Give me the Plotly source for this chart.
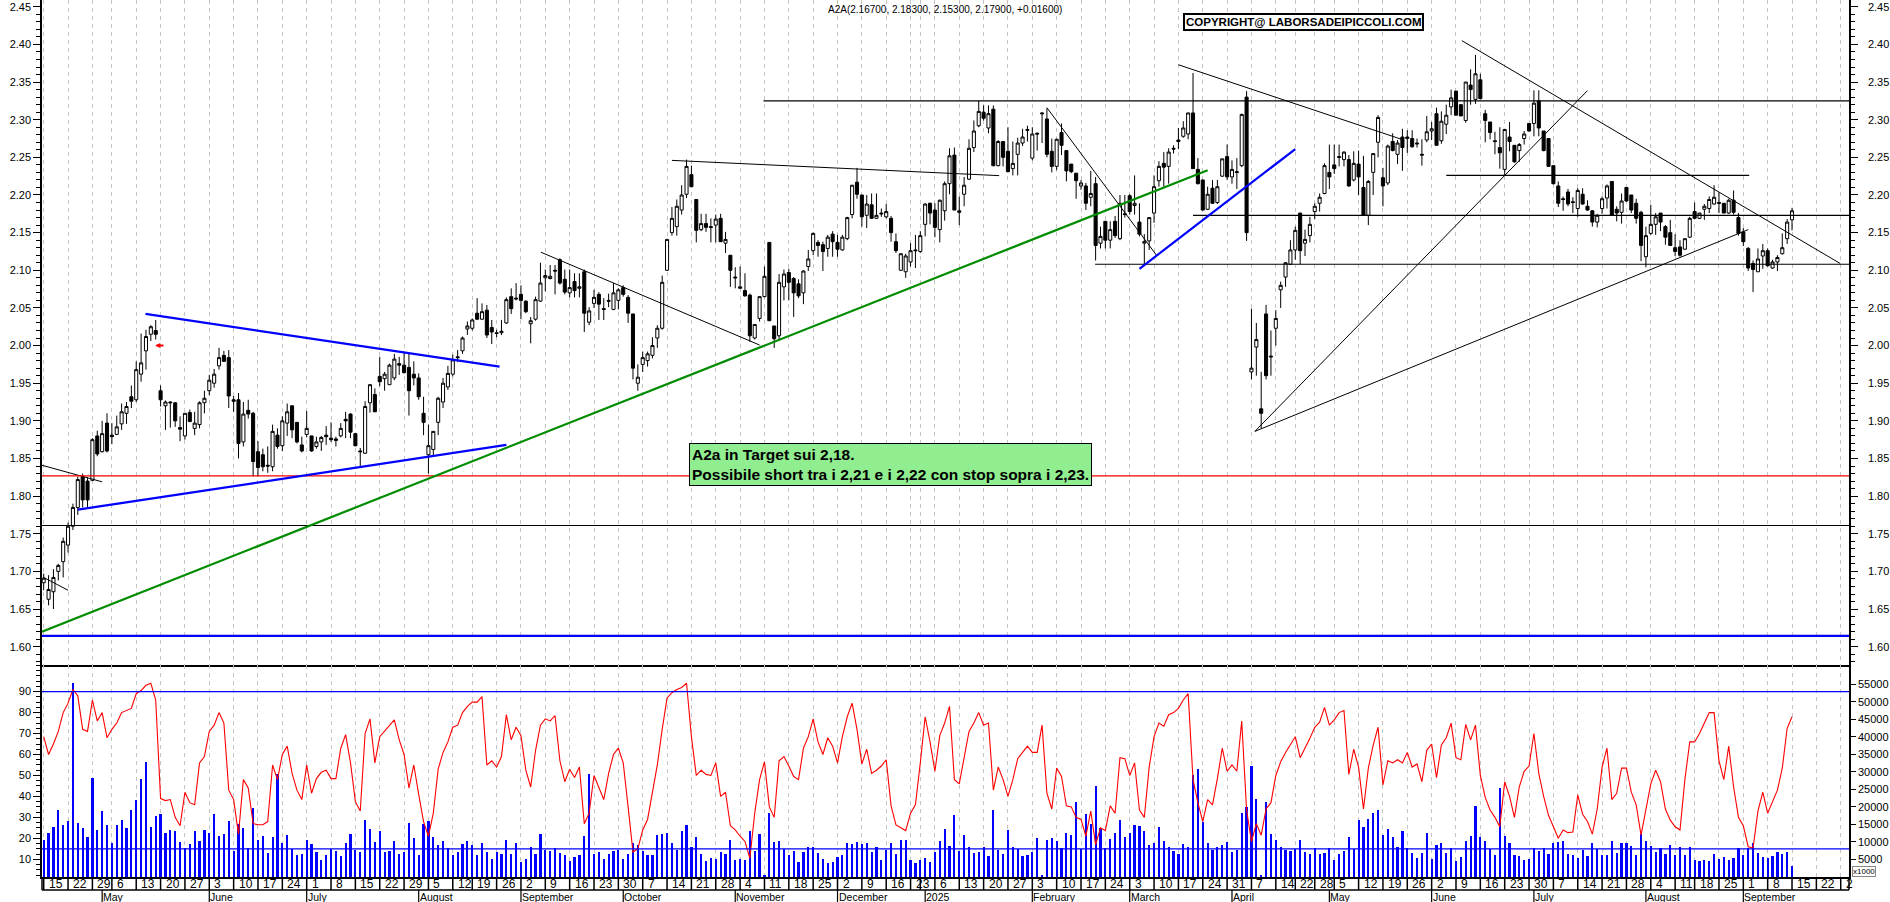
import plotly.graph_objects as go

W = 1890
H = 902

opens = [
    1.685,1.663,1.673,1.70,1.713,1.735,1.76,1.785,1.826,1.82,
    1.821,1.88,1.859,1.897,1.881,1.882,1.896,1.91,1.932,1.928,
    1.962,1.993,2.015,2.02,1.94,1.92,1.925,1.924,1.891,1.88,
    1.911,1.89,1.895,1.924,1.94,1.95,1.973,1.987,1.984,1.928,
    1.928,1.872,1.914,1.91,1.859,1.855,1.841,1.839,1.881,1.867,
    1.897,1.92,1.898,1.868,1.882,1.88,1.866,1.872,1.881,1.877,
    1.876,1.88,1.902,1.909,1.883,1.86,1.857,1.924,1.935,1.959,
    1.956,1.948,1.957,1.976,1.974,1.971,1.962,1.957,1.91,1.855,
    1.862,1.898,1.925,1.945,1.962,1.985,1.993,2.022,2.023,2.043,
    2.035,2.047,2.024,2.017,2.017,2.03,2.065,2.063,2.068,2.059,
    2.029,2.035,2.059,2.09,2.089,2.10,2.114,2.088,2.07,2.085,
    2.076,2.098,2.031,2.056,2.068,2.049,2.06,2.048,2.06,2.077,
    2.064,2.042,1.95,1.975,1.98,1.987,2.01,2.023,2.10,2.15,
    2.158,2.18,2.201,2.227,2.194,2.154,2.162,2.158,2.16,2.169,
    2.136,2.12,2.091,2.076,2.073,2.067,2.01,2.036,2.065,2.137,
    2.026,2.013,2.078,2.097,2.089,2.082,2.07,2.105,2.126,2.137,
    2.134,2.129,2.148,2.137,2.127,2.142,2.174,2.217,2.20,2.173,
    2.187,2.169,2.176,2.171,2.169,2.138,2.10,2.098,2.111,2.127,
    2.125,2.161,2.189,2.18,2.154,2.179,2.215,2.253,2.179,2.201,
    2.221,2.263,2.292,2.31,2.289,2.314,2.239,2.271,2.258,2.235,
    2.254,2.269,2.287,2.249,2.282,2.309,2.301,2.258,2.238,2.283,
    2.259,2.241,2.229,2.212,2.212,2.197,2.215,2.136,2.165,2.14,
    2.165,2.142,2.175,2.199,2.186,2.164,2.136,2.139,2.176,2.219,
    2.242,2.238,2.262,2.273,2.278,2.281,2.309,2.234,2.22,2.181,
    2.209,2.19,2.225,2.251,2.224,2.231,2.239,2.33,1.965,1.998,
    1.916,2.042,1.986,2.023,2.074,2.091,2.108,2.127,2.176,2.136,
    2.146,2.178,2.189,2.202,2.23,2.24,2.251,2.247,2.247,2.22,
    2.241,2.21,2.173,2.23,2.27,2.223,2.216,2.271,2.254,2.277,
    2.275,2.275,2.269,2.254,2.273,2.285,2.308,2.272,2.294,2.317,
    2.338,2.32,2.299,2.346,2.327,2.353,2.308,2.297,2.272,2.263,
    2.234,2.277,2.266,2.259,2.275,2.295,2.295,2.325,2.285,2.275,
    2.239,2.212,2.195,2.204,2.191,2.182,2.201,2.185,2.179,2.164,
    2.182,2.196,2.218,2.181,2.177,2.21,2.2,2.189,2.177,2.118,
    2.149,2.161,2.176,2.158,2.15,2.13,2.131,2.128,2.144,2.178,
    2.169,2.181,2.182,2.188,2.19,2.189,2.176,2.193,2.17,2.151,
    2.129,2.109,2.098,2.119,2.126,2.103,2.111,2.122,2.142,2.167,
]
highs = [
    1.697,1.695,1.703,1.71,1.745,1.765,1.79,1.826,1.83,1.825,
    1.877,1.887,1.90,1.91,1.897,1.907,1.923,1.925,1.947,1.979,
    2.016,2.021,2.027,2.034,1.947,1.927,1.926,1.925,1.906,1.91,
    1.915,1.912,1.926,1.94,1.961,1.969,1.997,1.993,1.994,1.933,
    1.937,1.925,1.928,1.912,1.873,1.863,1.866,1.895,1.89,1.906,
    1.923,1.92,1.898,1.879,1.913,1.88,1.879,1.88,1.893,1.898,
    1.879,1.897,1.912,1.91,1.883,1.864,1.926,1.949,1.943,1.985,
    1.965,1.976,1.989,1.985,1.992,1.99,1.979,1.963,1.932,1.895,
    1.886,1.932,1.957,1.973,1.988,1.994,2.012,2.032,2.036,2.063,
    2.056,2.054,2.034,2.021,2.034,2.064,2.076,2.083,2.08,2.06,
    2.038,2.065,2.11,2.101,2.107,2.107,2.116,2.101,2.101,2.096,
    2.096,2.101,2.051,2.074,2.071,2.063,2.069,2.083,2.076,2.08,
    2.067,2.042,1.975,1.992,1.992,2.011,2.027,2.093,2.141,2.184,
    2.194,2.213,2.247,2.239,2.194,2.175,2.175,2.169,2.174,2.175,
    2.151,2.12,2.104,2.105,2.096,2.069,2.028,2.065,2.105,2.137,
    2.026,2.095,2.101,2.102,2.091,2.088,2.1,2.127,2.15,2.14,
    2.138,2.147,2.152,2.147,2.147,2.171,2.213,2.236,2.20,2.2,
    2.202,2.202,2.182,2.188,2.172,2.149,2.122,2.122,2.136,2.147,
    2.152,2.189,2.19,2.189,2.194,2.218,2.262,2.263,2.198,2.224,
    2.274,2.299,2.325,2.319,2.319,2.319,2.273,2.271,2.29,2.271,
    2.276,2.288,2.292,2.29,2.283,2.31,2.315,2.275,2.275,2.295,
    2.259,2.241,2.229,2.22,2.216,2.232,2.224,2.158,2.165,2.165,
    2.172,2.2,2.2,2.201,2.226,2.189,2.148,2.17,2.226,2.245,
    2.257,2.262,2.266,2.289,2.298,2.309,2.362,2.249,2.22,2.211,
    2.22,2.22,2.248,2.267,2.246,2.249,2.308,2.338,2.049,2.03,
    1.965,2.054,2.02,2.047,2.085,2.111,2.14,2.158,2.176,2.154,
    2.171,2.189,2.202,2.242,2.267,2.267,2.267,2.258,2.253,2.258,
    2.259,2.252,2.22,2.255,2.306,2.236,2.267,2.282,2.273,2.288,
    2.286,2.286,2.275,2.274,2.305,2.297,2.316,2.311,2.32,2.34,
    2.338,2.32,2.35,2.367,2.386,2.361,2.313,2.297,2.284,2.29,
    2.287,2.297,2.266,2.269,2.285,2.295,2.339,2.339,2.285,2.275,
    2.239,2.218,2.198,2.208,2.197,2.209,2.209,2.193,2.18,2.175,
    2.198,2.214,2.218,2.185,2.202,2.21,2.2,2.195,2.179,2.158,
    2.187,2.176,2.176,2.16,2.167,2.148,2.14,2.142,2.171,2.19,
    2.176,2.188,2.198,2.213,2.203,2.189,2.195,2.206,2.176,2.156,
    2.131,2.113,2.129,2.135,2.129,2.114,2.12,2.149,2.168,2.183,
]
lows = [
    1.675,1.655,1.65,1.688,1.692,1.725,1.755,1.775,1.785,1.785,
    1.82,1.853,1.858,1.858,1.869,1.881,1.888,1.896,1.917,1.925,
    1.952,1.968,2.006,2.008,1.919,1.888,1.891,1.892,1.873,1.875,
    1.899,1.881,1.89,1.91,1.934,1.944,1.968,1.979,1.917,1.912,
    1.85,1.866,1.903,1.826,1.826,1.833,1.831,1.833,1.863,1.86,
    1.88,1.877,1.87,1.858,1.878,1.859,1.863,1.86,1.868,1.872,
    1.866,1.878,1.877,1.877,1.866,1.84,1.856,1.911,1.912,1.946,
    1.94,1.948,1.954,1.961,1.963,1.907,1.947,1.928,1.881,1.83,
    1.852,1.881,1.917,1.941,1.959,1.978,1.989,2.014,2.02,2.034,
    2.034,2.01,2.002,2.011,2.014,2.029,2.042,2.06,2.035,2.043,
    2.003,2.033,2.058,2.072,2.088,2.068,2.081,2.068,2.064,2.064,
    2.064,2.018,2.027,2.05,2.034,2.034,2.051,2.047,2.048,2.065,
    2.03,1.955,1.94,1.965,1.972,1.983,1.997,2.021,2.099,2.146,
    2.146,2.174,2.196,2.211,2.137,2.152,2.151,2.137,2.137,2.138,
    2.123,2.078,2.076,2.076,2.065,2.005,2.008,2.032,2.064,2.033,
    1.997,2.008,2.06,2.06,2.038,2.063,2.055,2.099,2.12,2.118,
    2.099,2.118,2.118,2.118,2.126,2.14,2.169,2.195,2.158,2.156,
    2.169,2.169,2.171,2.169,2.138,2.123,2.099,2.09,2.105,2.103,
    2.123,2.145,2.161,2.144,2.137,2.166,2.201,2.18,2.16,2.185,
    2.22,2.257,2.29,2.299,2.282,2.238,2.238,2.238,2.23,2.226,
    2.226,2.265,2.271,2.246,2.259,2.269,2.25,2.23,2.233,2.253,
    2.218,2.229,2.195,2.207,2.18,2.185,2.113,2.129,2.129,2.129,
    2.143,2.14,2.17,2.174,2.174,2.145,2.108,2.127,2.163,2.211,
    2.211,2.215,2.255,2.261,2.276,2.274,2.235,2.214,2.18,2.18,
    2.188,2.188,2.224,2.22,2.215,2.208,2.237,2.139,1.955,1.96,
    1.89,1.955,1.96,2.0,2.05,2.078,2.107,2.114,2.108,2.119,
    2.137,2.168,2.178,2.201,2.208,2.228,2.238,2.238,2.211,2.218,
    2.2,2.173,2.16,2.2,2.25,2.185,2.213,2.258,2.241,2.232,
    2.256,2.263,2.263,2.239,2.27,2.273,2.266,2.268,2.281,2.306,
    2.306,2.305,2.296,2.32,2.321,2.327,2.27,2.274,2.254,2.235,
    2.226,2.258,2.243,2.244,2.267,2.284,2.278,2.278,2.258,2.238,
    2.214,2.184,2.179,2.185,2.176,2.171,2.187,2.179,2.158,2.157,
    2.175,2.182,2.173,2.165,2.162,2.191,2.176,2.162,2.112,2.104,
    2.147,2.147,2.152,2.134,2.133,2.119,2.118,2.127,2.143,2.168,
    2.168,2.167,2.176,2.187,2.176,2.176,2.175,2.174,2.146,2.132,
    2.099,2.071,2.098,2.102,2.105,2.102,2.099,2.121,2.135,2.153,
]
closes = [
    1.691,1.676,1.692,1.708,1.74,1.76,1.785,1.822,1.795,1.795,
    1.875,1.856,1.883,1.86,1.879,1.892,1.912,1.919,1.926,1.968,
    1.977,2.012,2.025,2.015,1.928,1.925,1.924,1.90,1.889,1.91,
    1.899,1.897,1.924,1.93,1.954,1.962,1.984,1.979,1.933,1.926,
    1.87,1.909,1.909,1.846,1.838,1.839,1.84,1.886,1.866,1.90,
    1.912,1.888,1.872,1.86,1.89,1.86,1.872,1.878,1.879,1.875,
    1.874,1.89,1.90,1.885,1.867,1.859,1.919,1.948,1.912,1.952,
    1.962,1.974,1.982,1.974,1.964,1.94,1.957,1.932,1.898,1.867,
    1.886,1.93,1.95,1.963,1.981,1.984,2.01,2.026,2.034,2.035,
    2.045,2.014,2.018,2.016,2.019,2.061,2.049,2.062,2.06,2.045,
    2.033,2.061,2.083,2.093,2.092,2.099,2.083,2.071,2.077,2.073,
    2.078,2.043,2.046,2.064,2.055,2.048,2.059,2.07,2.074,2.068,
    2.043,1.97,1.958,1.984,1.989,2.0,2.023,2.084,2.141,2.169,
    2.185,2.2,2.238,2.211,2.153,2.162,2.157,2.157,2.168,2.138,
    2.141,2.10,2.09,2.078,2.066,2.013,2.028,2.065,2.092,2.033,
    2.009,2.084,2.095,2.084,2.07,2.066,2.099,2.115,2.149,2.133,
    2.125,2.144,2.138,2.128,2.144,2.17,2.213,2.201,2.171,2.188,
    2.169,2.173,2.175,2.178,2.15,2.126,2.122,2.119,2.126,2.126,
    2.146,2.188,2.176,2.157,2.193,2.215,2.252,2.18,2.177,2.213,
    2.262,2.285,2.311,2.302,2.308,2.239,2.271,2.25,2.231,2.242,
    2.269,2.277,2.286,2.281,2.281,2.308,2.254,2.238,2.274,2.266,
    2.232,2.231,2.219,2.216,2.189,2.202,2.133,2.145,2.14,2.154,
    2.146,2.189,2.174,2.178,2.189,2.148,2.138,2.17,2.211,2.238,
    2.237,2.257,2.261,2.271,2.289,2.309,2.235,2.215,2.18,2.201,
    2.189,2.211,2.248,2.224,2.234,2.23,2.307,2.15,1.97,2.008,
    1.91,1.96,1.985,2.036,2.08,2.11,2.127,2.153,2.126,2.141,
    2.161,2.185,2.197,2.239,2.224,2.235,2.25,2.257,2.212,2.242,
    2.224,2.173,2.218,2.255,2.303,2.212,2.265,2.259,2.269,2.263,
    2.277,2.264,2.268,2.253,2.284,2.288,2.266,2.298,2.306,2.329,
    2.306,2.305,2.35,2.34,2.361,2.328,2.299,2.283,2.271,2.256,
    2.287,2.271,2.244,2.267,2.281,2.285,2.322,2.289,2.259,2.238,
    2.215,2.189,2.194,2.188,2.19,2.206,2.188,2.18,2.164,2.173,
    2.195,2.212,2.173,2.176,2.192,2.192,2.18,2.169,2.133,2.146,
    2.161,2.171,2.164,2.144,2.133,2.125,2.12,2.142,2.169,2.169,
    2.176,2.185,2.194,2.197,2.189,2.176,2.193,2.177,2.149,2.138,
    2.103,2.101,2.115,2.126,2.106,2.111,2.117,2.13,2.164,2.179,
]

# volume, thousands
volume = [
    10.7,12.6,14.4,19.0,14.9,16.1,55.4,15.5,13.9,11.5,28.3,13.4,18.7,14.7,9.8,14.7,16.3,14.1,19.0,22.1,
    28.1,32.9,14.3,17.4,17.9,12.6,13.3,13.0,9.9,8.4,9.3,13.2,10.2,13.5,12.5,18.1,11.6,12.4,15.9,7.3,
    15.2,13.9,8.4,19.8,10.7,11.6,6.9,11.5,29.3,9.7,11.9,8.1,6.2,6.7,10.7,9.3,7.0,4.8,6.2,7.9,
    7.3,6.0,9.8,12.4,7.8,7.2,16.4,13.6,9.9,13.0,7.2,7.4,10.2,6.5,7.2,15.5,11.1,6.2,15.2,16.0,
    11.4,9.0,10.2,8.4,6.3,7.1,9.5,10.2,9.0,6.4,9.7,7.2,5.0,7.2,6.7,10.5,6.7,9.7,4.2,5.0,
    8.6,6.7,12.4,7.6,7.3,8.4,6.9,6.3,4.6,5.6,6.4,11.6,29.5,6.5,7.2,5.0,6.7,7.4,7.8,5.2,6.5,
    9.6,9.1,7.3,6.2,6.2,11.9,12.4,12.6,9.6,7.6,13.2,14.7,8.6,11.5,6.5,4.7,5.3,5.0,7.2,6.7,
    10.5,4.8,5.0,4.9,13.1,7.3,12.4,0.3,18.2,10.1,10.2,7.9,6.2,7.3,4.3,7.2,8.6,8.6,6.9,5.0,
    4.1,4.3,5.8,6.2,9.6,9.3,9.9,9.3,9.6,7.2,8.6,4.9,7.8,9.6,6.5,10.6,10.5,4.8,3.9,4.8,
    5.4,4.4,7.0,10.2,13.6,8.9,17.6,7.3,12.1,8.6,6.9,7.2,8.6,6.0,19.0,7.6,6.6,13.5,8.7,7.9,
    5.9,6.2,7.2,11.2,0.5,10.5,11.0,10.2,8.4,12.6,11.9,21.5,7.9,17.9,15.2,26.1,14.1,8.4,10.9,12.6,
    16.4,11.3,12.6,14.7,14.6,13.2,9.0,9.8,14.2,10.2,8.6,7.3,6.5,9.5,8.6,29.0,30.7,15.7,9.6,7.6,
    8.6,9.0,10.1,7.2,7.6,18.4,20.0,
    31.8,22.4,0.5,21.5,12.4,10.5,8.6,7.6,7.3,7.9,10.6,7.1,6.5,8.4,6.7,6.9,8.4,4.8,6.7,7.3,
    11.5,7.9,16.4,14.3,16.6,18.3,19.0,12.0,13.6,11.3,8.6,13.0,8.4,6.9,5.5,6.9,12.6,5.0,9.0,9.6,
    6.9,8.4,4.6,5.6,10.2,11.7,20.2,11.3,10.2,7.9,6.4,25.5,11.7,9.8,6.2,5.9,4.8,5.0,8.4,7.3,
    8.4,6.7,9.8,10.0,10.2,6.5,6.4,5.4,7.6,5.9,9.6,7.9,6.3,6.2,10.2,6.9,9.8,9.6,8.8,6.3,
    12.4,10.2,8.8,7.2,8.4,6.5,9.0,6.2,8.6,6.4,8.6,4.9,4.7,4.9,4.7,6.5,5.0,5.8,4.8,5.3,
    8.4,6.3,8.4,9.8,6.9,5.8,5.4,6.0,7.1,6.7,7.1,3.1,
]

# red oscillator
oscillator = [
    68.5,60,65,71,80,84.5,91,88,72,71,86,76,80,68,72,75,80,81,82,89,
    90.5,93,94,86,39,38,38.5,30,26,42,37,36,56,59,71,74,80,75,43,38.5,
    22,48,44,27,26.5,26.5,28,55,48,60,64,51,43,38.5,55,41.5,48.5,51.5,52.5,48.5,
    48.5,63,69.5,56,37.5,33,70,77,56,68.5,71,74,76.5,67,60,44,55,41,28,21,
    32,53,61,66,73,74,80,83,85,85,87.6,55,57,54,59,79,67,73,69,52.5,
    44.5,62,74,77,76,78.5,57,47,53,49,54,27,32,50,44,38.5,51,60,63,56,
    35,13.5,15,24,29,42,55,72,87,89.5,91,92,94,68.5,50,52.5,50.5,50,56,40,
    42,26,24,21,18.5,10.5,32,48,56.5,35,30,57,59,54.5,49.5,48,63,68.5,77,66,
    60,68,64,56,68.5,78,84.5,72,55.5,62.5,51,52.5,54.5,57.5,35.5,26.4,25,23.7,32,36,
    56,78,66,52,69,75,83,48,46,59,71,75,80,74,75,43,54,48,40,48,
    58,61,64,61,61,74,41.5,34,53.5,49.5,35.5,35,30,29,21,33,17,25,23.7,35.5,
    32,58.5,58,50,56,33.5,30,54,68.5,75,73.5,79,80,82,86,89,48,37,28,38.5,
    36,48.5,63,52,55,52,76,33.5,
    18.4,27,21.5,34,37,50,56.5,61,65,68.5,58.5,63,67.7,73,75.4,82.5,74,76.5,80,81,
    50.5,62.5,54,34,53.5,64.5,73,45.5,57,56,57.5,56,61,54,55.5,47,62,65,49,64.5,
    68,75,58.5,57.5,74.4,67,74,50,39.5,33.5,30,25.5,47,40,30,44.6,52,54.5,70,51,
    40,31,25.5,20,24,22.7,23,40.7,31.5,28,22,34,54,63,38.5,41.5,53.5,53.5,42,36,
    21.5,33.5,46,52.5,47,34,28.7,25.5,24,48,66,66,70,75,80,80,57,48,64,44.6,
    30,26,16,15.4,33,42,32,37.5,43,53.5,72.5,78,
]

week_ticks = [
    0,5,10,14,19,24,29,34,39,44,49,54,59,64,69,74,79,84,88,93,98,103,108,113,118,
    123,128,133,138,143,148,153,158,163,168,173,178,180,183,188,193,198,203,208,213,218,
    223,228,233,238,243,248,253,257,261,265,270,275,280,285,290,295,300,305,310,315,320,325,
    330,335,339,344,349,354,359,364,369,
]
week_labels = [
    "15","22","29","6","13","20","27","3","10","17","24","1","8","15","22","29","5","12","19","26",
    "2","9","16","23","30","7","14","21","28","4","11","18","25","2","9","16","23","","6","13","20","27",
    "3","10","17","24","3","10","17","24","31","7","14","22","28","5","12","19","26","2","9","16","23","30",
    "7","14","21","28","4","11","18","25","1","8","15","22","2",
]
month_ticks = [12,34,54,77,98,119,142,163,181,203,223,244,264,285,306,329,349]
month_labels = [
    "May","June","July","August","September","October","November","December","2025",
    "February","March","April","May","June","July","August","September",
]

# hand drawn lines on the price pane, (bar, price) pairs
trend_segments = [
    ((-0.35,1.841),(12,1.819)),
    ((0,1.692),(5,1.675)),
    ((102.1,2.124),(147,2.0007)),
    ((129,2.246),(196.2,2.2257)),
    ((206,2.316),(228.5,2.12)),
    ((233,2.373),(278.8,2.274)),
    ((248.7,1.886),(317,2.3386)),
    ((248.7,1.886),(350,2.154)),
    ((291.2,2.405),(368.9,2.109)),
]
level_segments = [
    ((147.8,2.325),(370.7,2.325)),
    ((236,2.173),(370.7,2.173)),
    ((215.9,2.108),(370.7,2.108)),
    ((288,2.226),(350.2,2.226)),
    ((-0.35,1.761),(370.7,1.761)),
]
blue_segments = [
    ((20.9,2.042),(93.6,1.972)),
    ((7,1.782),(95,1.868)),
    ((225,2.102),(257,2.261)),
    ((-0.35,1.6145),(370.7,1.6145)),
]
green_segment = [(-0.35,1.62),(239,2.233)]
red_level = 1.827
osc_levels = [90, 15]

for name, arr in [("opens",opens),("highs",highs),("lows",lows),("closes",closes),("volume",volume),("oscillator",oscillator)]:
    if len(arr) != 360:
        raise ValueError(name + " has " + str(len(arr)))

bars = list(range(360))


def py(px):
    return 1 - px / H


def seg_xy(segments):
    xs, ys = [], []
    for a, b in segments:
        xs += [a[0], b[0], None]
        ys += [a[1], b[1], None]
    return xs, ys


fig = go.Figure()

fig.add_trace(go.Candlestick(
    x=bars, open=opens, high=highs, low=lows, close=closes,
    increasing=dict(line=dict(color="black", width=1), fillcolor="white"),
    decreasing=dict(line=dict(color="black", width=1), fillcolor="black"),
    whiskerwidth=0, xaxis="x", yaxis="y", hoverinfo="skip",
))

bx, by = seg_xy(trend_segments)
fig.add_trace(go.Scatter(x=bx, y=by, mode="lines", line=dict(color="black", width=1), xaxis="x", yaxis="y2"))
bx, by = seg_xy(level_segments)
fig.add_trace(go.Scatter(x=bx, y=by, mode="lines", line=dict(color="black", width=1.2), xaxis="x", yaxis="y2"))
fig.add_trace(go.Scatter(x=[-0.35, 370.7], y=[red_level, red_level], mode="lines", line=dict(color="#ff0000", width=1.2), xaxis="x", yaxis="y2"))
bx, by = seg_xy(blue_segments)
fig.add_trace(go.Scatter(x=bx, y=by, mode="lines", line=dict(color="#0000ff", width=2.2), xaxis="x", yaxis="y2"))
fig.add_trace(go.Scatter(x=[p[0] for p in green_segment], y=[p[1] for p in green_segment], mode="lines", line=dict(color="#008c00", width=2.2), xaxis="x", yaxis="y2"))

fig.add_trace(go.Bar(x=bars, y=volume, width=0.45, marker=dict(color="#0000ff", line=dict(width=0)), xaxis="x2", yaxis="y3"))
fig.add_trace(go.Scatter(x=bars, y=oscillator, mode="lines", line=dict(color="#ff0000", width=1.1), xaxis="x2", yaxis="y4"))
for lv in osc_levels:
    fig.add_trace(go.Scatter(x=[-0.35, 370.7], y=[lv, lv], mode="lines", line=dict(color="#0000ff", width=1.2), xaxis="x2", yaxis="y4"))

axis_font = dict(family="Liberation Sans", size=11, color="black")
x_dom = [42 / W, 1849 / W]
x_common = dict(
    domain=x_dom, range=[-0.35, 370.7], tickmode="array", tickvals=week_ticks,
    showticklabels=False, ticks="", showgrid=True, gridcolor="#c4c4c4", griddash="4px,4px", gridwidth=1,
    zeroline=False, showline=True, linecolor="black", linewidth=1.5,
)
y_common = dict(
    showgrid=False, zeroline=False, showline=True, linecolor="black", linewidth=1.5,
    ticks="outside", ticklen=7, tickcolor="black", tickfont=axis_font,
)
price_range = [1.5757, 2.459]
price_dom = [py(665), 1]
lower_dom = [py(877), py(665)]

fig.update_layout(
    width=W, height=H, margin=dict(l=0, r=0, t=0, b=0),
    paper_bgcolor="white", plot_bgcolor="white", showlegend=False, bargap=0, boxgap=0.1,
    xaxis=dict(x_common, anchor="y", rangeslider=dict(visible=False)),
    xaxis2=dict(x_common, anchor="y3", matches="x"),
    yaxis=dict(y_common, domain=price_dom, range=price_range, tick0=1.6, dtick=0.05, tickformat=".2f",
               minor=dict(ticks="outside", ticklen=4, dtick=0.01, tick0=1.6, tickcolor="black")),
    yaxis2=dict(y_common, domain=price_dom, range=price_range, overlaying="y", side="right", anchor="x",
                tick0=1.6, dtick=0.05, tickformat=".2f", ticklabelstandoff=8,
                minor=dict(ticks="outside", ticklen=4, dtick=0.01, tick0=1.6, tickcolor="black")),
    yaxis3=dict(y_common, domain=lower_dom, range=[0, 60.5], side="right", anchor="x2",
                tickmode="array", tickvals=list(range(5, 60, 5)), ticktext=[str(v * 1000) for v in range(5, 60, 5)],
                ticklen=5),
    yaxis4=dict(y_common, domain=lower_dom, range=[1.55, 102.7], side="left", overlaying="y3", anchor="x2",
                tickmode="array", tickvals=list(range(10, 100, 10)),
                minor=dict(ticks="outside", ticklen=4, dtick=2.5, tick0=0, tickcolor="black")),
)

shapes = []
shapes.append(dict(type="line", xref="paper", yref="paper", x0=42 / W, x1=1849 / W, y0=py(890), y1=py(890), line=dict(color="black", width=1.5)))
shapes.append(dict(type="line", xref="paper", yref="paper", x0=42 / W, x1=42 / W, y0=py(890), y1=py(877), line=dict(color="black", width=1.5)))
shapes.append(dict(type="line", xref="paper", yref="paper", x0=1849 / W, x1=1849 / W, y0=py(890), y1=py(877), line=dict(color="black", width=1.5)))
for t in week_ticks:
    shapes.append(dict(type="line", xref="x", yref="paper", x0=t, x1=t, y0=py(890), y1=py(877), line=dict(color="black", width=1.5)))
for t in month_ticks:
    shapes.append(dict(type="line", xref="x", yref="paper", x0=t, x1=t, y0=py(902), y1=py(890), line=dict(color="black", width=1.2)))

annotations = []
strip_font = dict(family="Liberation Sans", size=12, color="black")
month_font = dict(family="Liberation Sans", size=10.5, color="black")
for t, lab in zip(week_ticks, week_labels):
    if lab:
        annotations.append(dict(x=t, xref="x", y=py(884), yref="paper", text=lab, showarrow=False,
                                xanchor="left", yanchor="middle", xshift=3, font=strip_font))
for t, lab in zip(month_ticks, month_labels):
    annotations.append(dict(x=t, xref="x", y=py(890.5), yref="paper", text=lab, showarrow=False,
                            xanchor="left", yanchor="top", xshift=1, borderpad=0, borderwidth=0, font=month_font))

annotations.append(dict(
    x=945 / W, xref="paper", y=py(9), yref="paper", showarrow=False, xanchor="center", yanchor="middle",
    text="A2A(2.16700, 2.18300, 2.15300, 2.17900, +0.01600)",
    font=dict(family="Liberation Sans", size=10, color="black"),
))
annotations.append(dict(
    x=1303 / W, xref="paper", y=py(22), yref="paper", showarrow=False, xanchor="center", yanchor="middle",
    text="<b>COPYRIGHT@ LABORSADEIPICCOLI.COM</b>", bgcolor="white", bordercolor="black", borderwidth=2, borderpad=1,
    font=dict(family="Liberation Sans", size=11.5, color="black"),
))
annotations.append(dict(
    x=689 / W, xref="paper", y=py(443), yref="paper", showarrow=False, xanchor="left", yanchor="top", align="left",
    text="<b>A2a in Target sui 2,18.<br>Possibile short tra i 2,21 e i 2,22 con stop sopra i 2,23.</b>",
    bgcolor="#90ee90", bordercolor="black", borderwidth=1, borderpad=2,
    font=dict(family="Liberation Sans", size=15.5, color="black"),
))
annotations.append(dict(
    x=1852 / W, xref="paper", y=py(871), yref="paper", showarrow=False, xanchor="left", yanchor="middle",
    text="x1000", bgcolor="white", bordercolor="#888888", borderwidth=1, borderpad=0,
    font=dict(family="Liberation Sans", size=8, color="black"),
))
# little red arrow under the May top
annotations.append(dict(
    x=22.9, y=2.0, xref="x", yref="y", ax=24.9, ay=2.0, axref="x", ayref="y", text="",
    showarrow=True, arrowhead=2, arrowsize=0.5, arrowwidth=2, arrowcolor="#ff0000",
))

fig.update_layout(shapes=shapes, annotations=annotations)
fig.write_html("out.html", config=dict(displayModeBar=False),
               post_script="document.body.style.margin='0';document.documentElement.style.overflow='hidden';")
